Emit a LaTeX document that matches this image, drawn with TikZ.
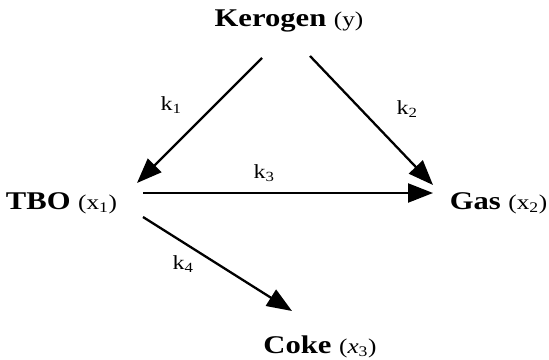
\documentclass[tikz,border=0pt]{standalone}
\usepackage{fontspec}
\setmainfont{Liberation Serif}
\usetikzlibrary{arrows.meta}
\newcommand{\hs}[1]{\scalebox{1.2}[1]{#1}}
\newcommand{\bigb}[1]{\fontsize{25.5}{30}\selectfont\textbf{#1}}
\newcommand{\smr}[1]{{\fontsize{21}{25}\selectfont #1}}
\tikzset{
  lbl/.style={inner sep=0pt, anchor=base},
  rate/.style={inner sep=0pt, anchor=base, font=\fontsize{20}{24}\selectfont},
  arr/.style={line width=2.3pt, -{Triangle[length=25pt,width=19pt]}},
}
\begin{document}
\begin{tikzpicture}[x=1pt,y=-1pt]
\useasboundingbox (0,0) rectangle (549,359);
\node[lbl] (ker) at (289,26) {\hs{\bigb{Kerogen} \smr{(y)}}};
\node[lbl] (tbo) at (61.5,209) {\hs{\bigb{TBO} \smr{(x\textsubscript{1})}}};
\node[lbl] (gas) at (498.5,209) {\hs{\bigb{Gas} \smr{(x\textsubscript{2})}}};
\node[lbl] (coke) at (320,353) {\hs{\bigb{Coke} \smr{(\textit{x}\textsubscript{3})}}};
\coordinate (kerL) at (262,58);
\coordinate (kerR) at (310,56);
\coordinate (tboIn) at (137,183);
\coordinate (tboOut) at (143,193);
\coordinate (tboDown) at (143,217);
\coordinate (gasInA) at (433,185);
\coordinate (gasInB) at (433,193);
\coordinate (cokeIn) at (292,311);
\draw[arr] (kerL) -- (tboIn);
\draw[arr] (kerR) -- (gasInA);
\draw[arr] (tboOut) -- (gasInB);
\draw[arr] (tboDown) -- (cokeIn);
\node[rate] (k1) at (171,110) {\hs{k\textsubscript{1}}};
\node[rate] (k2) at (407,114) {\hs{k\textsubscript{2}}};
\node[rate] (k3) at (264,178) {\hs{k\textsubscript{3}}};
\node[rate] (k4) at (183,269) {\hs{k\textsubscript{4}}};
\end{tikzpicture}
\end{document}
